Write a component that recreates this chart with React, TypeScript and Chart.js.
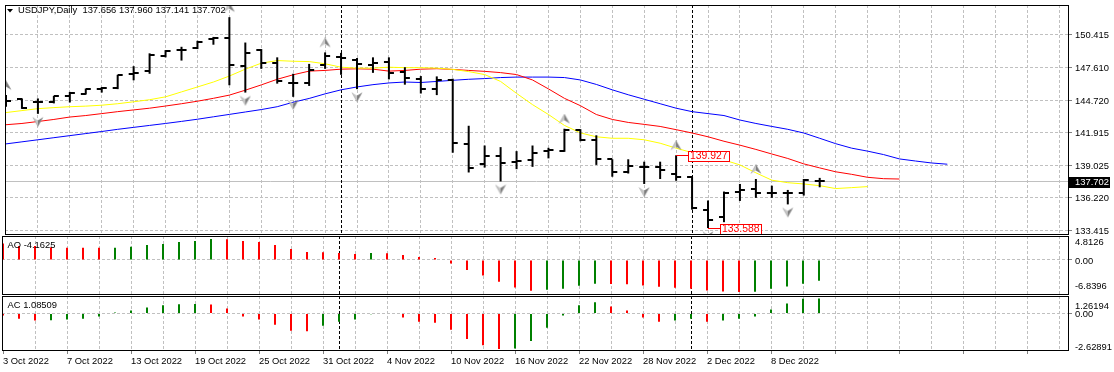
import { useEffect, useRef } from 'react';
import { Chart, registerables } from 'chart.js';

Chart.register(...registerables);

const symbol = 'USDJPY';
const timeframe = 'Daily';

const dates = ['3 Oct 2022','4 Oct 2022','5 Oct 2022','6 Oct 2022','7 Oct 2022','10 Oct 2022','11 Oct 2022','12 Oct 2022','13 Oct 2022','14 Oct 2022','17 Oct 2022','18 Oct 2022','19 Oct 2022','20 Oct 2022','21 Oct 2022','24 Oct 2022','25 Oct 2022','26 Oct 2022','27 Oct 2022','28 Oct 2022','31 Oct 2022','1 Nov 2022','2 Nov 2022','3 Nov 2022','4 Nov 2022','7 Nov 2022','8 Nov 2022','9 Nov 2022','10 Nov 2022','11 Nov 2022','14 Nov 2022','15 Nov 2022','16 Nov 2022','17 Nov 2022','18 Nov 2022','21 Nov 2022','22 Nov 2022','23 Nov 2022','24 Nov 2022','25 Nov 2022','28 Nov 2022','29 Nov 2022','30 Nov 2022','1 Dec 2022','2 Dec 2022','5 Dec 2022','6 Dec 2022','7 Dec 2022','8 Dec 2022','9 Dec 2022','12 Dec 2022','13 Dec 2022'];

const opens = [144.85,144.79,144.59,144.59,145.08,145.31,145.69,145.80,147.03,147.26,148.61,149.09,149.26,150.04,150.18,147.69,149.09,147.97,146.23,146.25,147.83,148.52,148.27,147.75,148.03,147.17,146.60,145.74,146.51,140.92,139.15,139.89,139.37,139.52,140.29,140.29,142.16,141.24,139.58,138.43,138.92,138.92,138.27,138.00,135.19,134.53,136.77,137.00,136.62,136.62,136.64,137.656];
const highs = [145.17,144.88,144.88,145.11,145.45,145.74,145.88,146.94,147.69,148.81,149.09,149.38,149.90,150.24,151.96,149.75,149.18,148.46,147.03,147.89,148.89,148.85,148.40,148.46,148.46,147.60,146.83,146.80,146.60,142.50,140.78,140.64,140.29,140.78,140.58,142.24,142.20,141.67,139.58,139.58,139.37,139.37,139.927,138.06,135.99,136.77,137.43,137.86,137.28,136.91,137.86,137.960];
const lows = [144.16,143.97,143.54,144.45,144.53,145.22,145.39,145.69,146.46,147.03,148.46,148.18,149.18,149.56,146.03,145.39,147.46,146.17,145.02,145.97,147.46,146.94,145.69,147.11,146.54,146.08,145.31,145.17,140.15,138.43,138.86,137.65,138.72,138.92,139.66,140.23,141.15,139.09,138.06,138.34,137.43,137.86,137.71,135.19,133.588,134.10,135.95,136.22,136.22,135.65,136.42,137.141];
const closes = [144.65,144.02,144.59,145.08,145.37,145.69,145.80,146.94,147.11,148.69,148.98,149.09,149.84,150.12,147.83,148.83,147.95,146.37,146.23,147.37,148.61,148.40,147.89,147.97,147.11,146.66,145.74,146.46,141.00,138.86,139.89,139.29,139.43,140.15,140.35,142.16,141.24,139.63,138.43,139.00,138.92,138.63,138.06,135.33,134.33,136.68,136.94,136.62,136.64,136.66,137.77,137.702];

// Alligator lines (already shifted forward)
const lips = [143.65,143.82,143.99,144.08,144.16,144.21,144.29,144.42,144.59,144.77,145.02,145.45,145.88,146.31,146.83,147.43,147.95,148.18,148.12,148.09,147.90,147.60,147.52,147.52,147.60,147.56,147.56,147.52,147.41,147.22,146.96,146.36,145.32,144.34,143.48,142.53,141.88,141.54,141.41,141.41,141.28,140.98,140.55,140.16,139.86,139.52,139.09,138.40,137.76,137.54,137.43,137.28,137.03,137.11,137.20];
const teeth = [142.59,142.70,142.87,143.05,143.26,143.39,143.56,143.73,143.88,144.03,144.22,144.42,144.64,144.89,145.17,145.60,146.06,146.55,146.94,147.26,147.32,147.43,147.46,147.43,147.26,147.32,147.43,147.47,147.41,147.32,147.24,147.13,146.96,146.49,145.71,144.89,144.25,143.48,143.05,142.79,142.62,142.44,142.16,141.87,141.54,141.15,140.81,140.44,140.04,139.65,139.18,138.83,138.49,138.27,138.01,137.89,137.86];
const jaw = [140.92,141.10,141.28,141.46,141.64,141.82,142.00,142.19,142.36,142.53,142.70,142.88,143.07,143.28,143.49,143.70,143.91,144.16,144.55,144.88,145.28,145.63,145.88,146.08,146.23,146.31,146.27,146.36,146.46,146.55,146.61,146.70,146.74,146.74,146.74,146.70,146.49,146.10,145.63,145.20,144.81,144.42,144.03,143.73,143.56,143.39,143.00,142.70,142.44,142.19,141.87,141.41,140.94,140.55,140.29,139.99,139.61,139.43,139.26,139.15];

const fractalUp = [0, 14, 20, 35, 42, 47];
const fractalDown = [2, 15, 18, 22, 31, 40, 44, 49];
const highTagIdx = 42;
const lowTagIdx = 44;

const aoValues = [3.33,2.80,2.78,2.53,2.47,2.45,2.43,2.47,2.67,3.00,3.20,3.60,3.80,4.20,4.18,3.80,3.60,3.00,2.20,1.60,1.55,1.40,1.20,1.40,1.35,1.00,0.60,0.40,-0.73,-2.00,-3.13,-4.40,-5.53,-6.20,-6.00,-5.80,-5.20,-4.80,-4.85,-4.90,-5.15,-5.40,-5.60,-5.80,-6.15,-6.35,-6.42,-6.40,-5.80,-5.33,-4.80,-4.1625];
const acValues = [-0.15,-0.37,-0.51,-0.49,-0.44,-0.37,-0.22,0.07,0.22,0.44,0.59,0.66,0.68,0.65,0.37,-0.22,-0.44,-0.81,-1.25,-1.28,-0.88,-0.59,-0.44,-0.05,0.03,-0.29,-0.59,-0.66,-1.17,-1.83,-2.28,-2.55,-2.52,-1.98,-1.03,-0.15,0.59,0.81,0.51,0.22,-0.29,-0.59,-0.51,-0.37,-0.59,-0.51,-0.37,-0.22,0.29,0.73,1.06,1.08509];

const priceTicks = [150.415, 147.610, 144.720, 141.915, 139.025, 136.220, 133.415];
const priceMin = 133.071;
const priceMax = 153.020;
const aoMin = -6.8396;
const aoMax = 4.8126;
const acMin = -2.62891;
const acMax = 1.26194;

// ---- style ----
const W = 1114;
const H = 372;
const FONT = "'Liberation Sans', Arial, sans-serif";
const FS = 9.4;
const GRID = '#c0c0c0';
const AREA_LEFT = 2;
const AREA_RIGHT = 1068;
const AXIS_W = W - AREA_RIGHT;
const BAR_PX = 16;
const X_MIN = -1 / 16;
const X_MAX = X_MIN + (AREA_RIGHT - AREA_LEFT) / BAR_PX;
const GREEN = '#008000';
const RED = '#ff0000';

const gridTicks: number[] = [];
for (let i = 0; i <= 66; i += 2) gridTicks.push(i);

const monthStarts: number[] = [];
for (let i = 1; i < dates.length; i++) {
  if (dates[i].split(' ')[1] !== dates[i - 1].split(' ')[1]) monthStarts.push(i);
}

function zeroPad(s: any) {
  s.paddingLeft = 0; s.paddingRight = 0; s.paddingTop = 0; s.paddingBottom = 0;
}

function xAxis(showLabels: boolean) {
  return {
    type: 'linear',
    position: 'bottom',
    min: X_MIN,
    max: X_MAX,
    offset: false,
    bounds: 'data',
    afterBuildTicks: (s: any) => { s.ticks = gridTicks.map((v) => ({ value: v })); },
    afterFit: (s: any) => { s.height = showLabels ? 22 : 0; zeroPad(s); },
    grid: {
      offset: false,
      color: (c: any) => (c.tick && c.tick.value === 0 ? 'rgba(0,0,0,0)' : GRID),
      lineWidth: 1,
      drawTicks: showLabels,
      tickLength: 4,
      tickColor: (c: any) => (c.tick && c.tick.value % 4 === 0 ? '#808080' : 'rgba(0,0,0,0)'),
    },
    border: { display: false, dash: [3, 2] },
    ticks: {
      display: showLabels,
      autoSkip: false,
      maxRotation: 0,
      minRotation: 0,
      align: 'start',
      padding: 2,
      color: '#000',
      font: { family: FONT, size: FS },
      callback: (v: any) => (v % 4 === 0 && dates[v] ? dates[v] : ''),
    },
  };
}

function drawSeparators(ctx: CanvasRenderingContext2D, a: any, x: any) {
  ctx.save();
  ctx.strokeStyle = '#000';
  ctx.lineWidth = 1;
  ctx.setLineDash([3, 2]);
  monthStarts.forEach((i) => {
    const px = Math.round(x.getPixelForValue(i)) + 0.5;
    ctx.beginPath();
    ctx.moveTo(px, a.top);
    ctx.lineTo(px, a.bottom);
    ctx.stroke();
  });
  ctx.restore();
}

function drawFrame(ctx: CanvasRenderingContext2D, a: any) {
  ctx.save();
  ctx.strokeStyle = '#000';
  ctx.lineWidth = 1;
  ctx.setLineDash([]);
  ctx.strokeRect(a.left + 0.5, a.top + 0.5, a.width, a.height);
  ctx.restore();
}

function priceTag(ctx: CanvasRenderingContext2D, a: any, px: number, py: number, text: string) {
  ctx.save();
  ctx.beginPath();
  ctx.rect(a.left, a.top, a.width, a.height);
  ctx.clip();
  const yy = Math.round(py);
  ctx.font = `10.4px ${FONT}`;
  const tw = Math.ceil(ctx.measureText(text).width);
  const bx = Math.round(px) + 12;
  const bw = tw + 4;
  ctx.strokeStyle = RED;
  ctx.lineWidth = 1;
  ctx.beginPath();
  ctx.moveTo(px, yy + 0.5);
  ctx.lineTo(bx, yy + 0.5);
  ctx.stroke();
  ctx.fillStyle = '#fff';
  ctx.fillRect(bx, yy - 4, bw, 11);
  ctx.strokeRect(bx + 0.5, yy - 3.5, bw - 1, 10);
  ctx.fillStyle = RED;
  ctx.textBaseline = 'middle';
  ctx.textAlign = 'left';
  ctx.fillText(text, bx + 2, yy + 1.5);
  ctx.restore();
}

function makeTick(open: boolean) {
  const c = document.createElement('canvas');
  c.width = 12;
  c.height = 2;
  const g = c.getContext('2d')!;
  g.fillStyle = '#000';
  if (open) g.fillRect(1, 0, 5, 2);
  else g.fillRect(6, 0, 5, 2);
  return c;
}

function makeArrow(up: boolean) {
  const c = document.createElement('canvas');
  c.width = 12;
  c.height = 30;
  const g = c.getContext('2d')!;
  const cy = up ? 5 : 23;
  const tipY = up ? cy - 4.5 : cy + 4.5;
  const wingY = up ? cy + 4.5 : cy - 4.5;
  const notchY = up ? cy + 1.5 : cy - 1.5;
  g.fillStyle = '#c8c8c8';
  g.beginPath(); g.moveTo(6, tipY); g.lineTo(1, wingY); g.lineTo(6, notchY); g.closePath(); g.fill();
  g.fillStyle = '#7c7c7c';
  g.beginPath(); g.moveTo(6, tipY); g.lineTo(11, wingY); g.lineTo(6, notchY); g.closePath(); g.fill();
  g.strokeStyle = '#9a9a9a';
  g.lineWidth = 0.6;
  g.beginPath(); g.moveTo(1, wingY); g.lineTo(6, tipY); g.lineTo(11, wingY); g.stroke();
  return c;
}

function mainConfig(): any {
  const last = closes.length - 1;
  const decor = {
    id: 'mainDecor',
    beforeDatasetsDraw(chart: any) {
      const { ctx, chartArea: a, scales } = chart;
      ctx.save();
      const py = Math.round(scales.y.getPixelForValue(closes[last])) + 0.5;
      ctx.strokeStyle = '#c0c0c0';
      ctx.lineWidth = 1;
      ctx.beginPath();
      ctx.moveTo(a.left, py);
      ctx.lineTo(a.right, py);
      ctx.stroke();
      ctx.restore();
      drawSeparators(ctx, a, scales.x);
    },
    afterDraw(chart: any) {
      const { ctx, chartArea: a, scales } = chart;
      const { x, y } = scales;
      drawFrame(ctx, a);
      priceTag(ctx, a, x.getPixelForValue(highTagIdx), y.getPixelForValue(highs[highTagIdx]), highs[highTagIdx].toFixed(3));
      priceTag(ctx, a, x.getPixelForValue(lowTagIdx), y.getPixelForValue(lows[lowTagIdx]), lows[lowTagIdx].toFixed(3));
      ctx.save();
      // title
      ctx.fillStyle = '#000';
      ctx.beginPath();
      ctx.moveTo(7, 9); ctx.lineTo(13, 9); ctx.lineTo(10, 12.5); ctx.closePath();
      ctx.fill();
      ctx.font = `${FS}px ${FONT}`;
      ctx.textBaseline = 'middle';
      ctx.textAlign = 'left';
      const t = `${symbol},${timeframe}  ${opens[last].toFixed(3)} ${highs[last].toFixed(3)} ${lows[last].toFixed(3)} ${closes[last].toFixed(3)}`;
      ctx.fillText(t, 18, 10.7);
      // current price box
      const yb = Math.round(y.getPixelForValue(closes[last]));
      ctx.fillStyle = '#000';
      ctx.fillRect(a.right + 1, yb - 4, 41, 11);
      ctx.fillStyle = '#fff';
      ctx.fillText(closes[last].toFixed(3), a.right + 7, yb + 1.5);
      ctx.restore();
    },
  };
  const openImg = makeTick(true);
  const closeImg = makeTick(false);
  const upImg = makeArrow(true);
  const downImg = makeArrow(false);
  return {
    type: 'bar',
    data: {
      datasets: [
        { type: 'scatter', label: 'Open', data: opens.map((v, i) => ({ x: i, y: v })), pointStyle: openImg, pointRadius: 3, order: 0 },
        { type: 'scatter', label: 'Close', data: closes.map((v, i) => ({ x: i, y: v })), pointStyle: closeImg, pointRadius: 3, order: 0 },
        { type: 'bar', label: 'Range', data: highs.map((h, i) => ({ x: i, y: [lows[i], h] })), backgroundColor: '#000', borderWidth: 0, barThickness: 2, inflateAmount: 0, grouped: false, order: 1 },
        { type: 'scatter', label: 'Fractal up', data: fractalUp.map((i) => ({ x: i, y: highs[i] })), pointStyle: upImg, pointRadius: 3, order: 2 },
        { type: 'scatter', label: 'Fractal down', data: fractalDown.map((i) => ({ x: i, y: lows[i] })), pointStyle: downImg, pointRadius: 3, order: 2 },
        { type: 'line', label: 'Lips', data: lips.map((v, i) => ({ x: i, y: v })), borderColor: '#ffff00', borderWidth: 1, pointRadius: 0, tension: 0, order: 5 },
        { type: 'line', label: 'Teeth', data: teeth.map((v, i) => ({ x: i, y: v })), borderColor: '#ff0000', borderWidth: 1, pointRadius: 0, tension: 0, order: 6 },
        { type: 'line', label: 'Jaw', data: jaw.map((v, i) => ({ x: i, y: v })), borderColor: '#0000ff', borderWidth: 1, pointRadius: 0, tension: 0, order: 7 },
      ],
    },
    options: {
      responsive: false,
      animation: false,
      devicePixelRatio: 1,
      events: [],
      layout: { padding: { left: AREA_LEFT, top: 2, right: 0, bottom: H - 234 } },
      plugins: { legend: { display: false }, tooltip: { enabled: false } },
      scales: {
        x: xAxis(false),
        y: {
          type: 'linear',
          position: 'right',
          min: priceMin,
          max: priceMax,
          bounds: 'data',
          afterBuildTicks: (s: any) => { s.ticks = priceTicks.map((v) => ({ value: v })); },
          afterFit: (s: any) => { s.width = AXIS_W; zeroPad(s); },
          grid: { color: GRID, lineWidth: 1, drawTicks: true, tickLength: 4, tickColor: '#808080' },
          border: { display: false, dash: [3, 2] },
          ticks: {
            color: '#000',
            font: { family: FONT, size: FS },
            padding: 3,
            labelOffset: 1,
            autoSkip: false,
            callback: (v: any) => Number(v).toFixed(3),
          },
        },
      },
    },
    plugins: [decor],
  };
}

function subConfig(kind: 'AO' | 'AC'): any {
  const vals = kind === 'AO' ? aoValues : acValues;
  const min = kind === 'AO' ? aoMin : acMin;
  const max = kind === 'AO' ? aoMax : acMax;
  const dec = kind === 'AO' ? 4 : 5;
  const top = kind === 'AO' ? 236 : 296;
  const bottomPad = kind === 'AO' ? H - 294 : 0;
  const showDates = kind === 'AC';
  const maxOff = kind === 'AO' ? 6.7 : 10;
  const minOff = kind === 'AO' ? 7.3 : 2.7;
  const colors = vals.map((v, i) => (i > 0 && v > vals[i - 1] ? GREEN : RED));
  const decor = {
    id: 'subDecor' + kind,
    beforeDatasetsDraw(chart: any) {
      drawSeparators(chart.ctx, chart.chartArea, chart.scales.x);
    },
    afterDraw(chart: any) {
      const { ctx, chartArea: a, scales } = chart;
      drawFrame(ctx, a);
      ctx.save();
      ctx.fillStyle = '#000';
      ctx.font = `${FS}px ${FONT}`;
      ctx.textBaseline = 'middle';
      ctx.textAlign = 'left';
      ctx.fillText(`${kind} ${vals[vals.length - 1].toFixed(dec)}`, 7.5, a.top + 9);
      const lx = a.right + 7;
      ctx.fillText(max.toFixed(dec), lx, scales.y.getPixelForValue(max) + maxOff);
      ctx.fillText((0).toFixed(2), lx, scales.y.getPixelForValue(0) + 1);
      ctx.fillText(min.toFixed(dec), lx, scales.y.getPixelForValue(min) - minOff);
      ctx.restore();
    },
  };
  return {
    type: 'bar',
    data: {
      datasets: [
        { type: 'bar', label: kind, data: vals.map((v, i) => ({ x: i, y: v })), backgroundColor: colors, borderWidth: 0, barThickness: 2, inflateAmount: 0 },
      ],
    },
    options: {
      responsive: false,
      animation: false,
      devicePixelRatio: 1,
      events: [],
      layout: { padding: { left: AREA_LEFT, top, right: 0, bottom: bottomPad } },
      plugins: { legend: { display: false }, tooltip: { enabled: false } },
      scales: {
        x: xAxis(showDates),
        y: {
          type: 'linear',
          position: 'right',
          min,
          max,
          bounds: 'data',
          afterBuildTicks: (s: any) => { s.ticks = [{ value: 0 }]; },
          afterFit: (s: any) => { s.width = AXIS_W; zeroPad(s); },
          grid: { color: GRID, lineWidth: 1, drawTicks: true, tickLength: 4, tickColor: '#808080' },
          border: { display: false, dash: [3, 2] },
          ticks: { display: false },
        },
      },
    },
    plugins: [decor],
  };
}

export default function App() {
  const c1 = useRef<HTMLCanvasElement>(null);
  const c2 = useRef<HTMLCanvasElement>(null);
  const c3 = useRef<HTMLCanvasElement>(null);
  useEffect(() => {
    document.body.style.margin = '0';
    Chart.defaults.font.family = FONT;
    Chart.defaults.font.size = FS;
    const charts = [
      new Chart(c1.current!, mainConfig()),
      new Chart(c2.current!, subConfig('AO')),
      new Chart(c3.current!, subConfig('AC')),
    ];
    return () => charts.forEach((ch) => ch.destroy());
  }, []);
  const cs: any = { position: 'absolute', left: 0, top: 0 };
  return (
    <div style={{ position: 'relative', width: W, height: H, background: '#fff', overflow: 'hidden' }}>
      <canvas ref={c1} width={W} height={H} style={cs} />
      <canvas ref={c2} width={W} height={H} style={cs} />
      <canvas ref={c3} width={W} height={H} style={cs} />
    </div>
  );
}
